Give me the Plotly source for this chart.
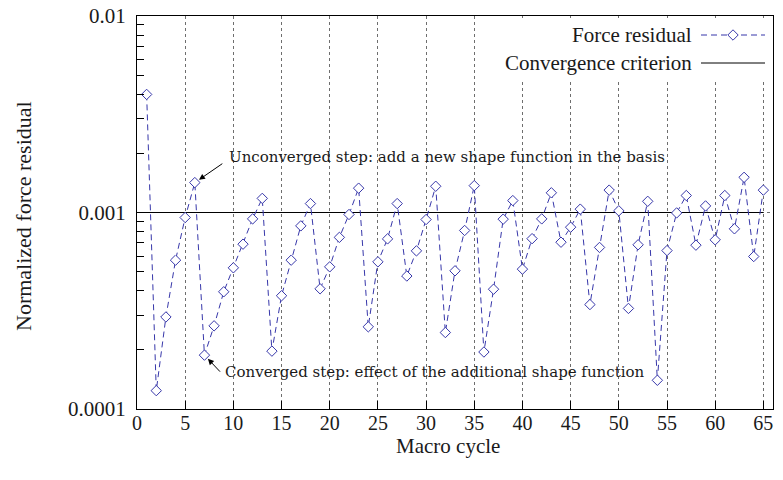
import plotly.graph_objects as go

# ---- data ----
cycles = list(range(1, 66))
force_residual = [
    0.00399, 0.000124, 0.000294, 0.000572, 0.000943, 0.00142, 0.000188, 0.000265, 0.000395, 0.000523,
    0.000690, 0.000928, 0.00118, 0.000197, 0.000377, 0.000572, 0.000855, 0.00111, 0.000409, 0.000529,
    0.000747, 0.000977, 0.00133, 0.000262, 0.000561, 0.000734, 0.00111, 0.000475, 0.000638, 0.000921,
    0.00136, 0.000245, 0.000505, 0.000810, 0.00137, 0.000195, 0.000407, 0.000925, 0.00115, 0.000515,
    0.000736, 0.000928, 0.00126, 0.000706, 0.000842, 0.00104, 0.000340, 0.000664, 0.00130, 0.00102,
    0.000325, 0.000685, 0.00114, 0.000140, 0.000640, 0.000995, 0.00122, 0.000682, 0.00108, 0.000726,
    0.00122, 0.000826, 0.00151, 0.000597, 0.00130,
]
criterion_x = [0, 65]
criterion_y = [0.001, 0.001]

x_ticks = list(range(0, 66, 5))
y_ticks = [1e-4, 1e-3, 1e-2]
y_tick_text = ["0.0001", "0.001", "0.01"]
y_minor = [k * 1e-4 for k in range(2, 10)] + [k * 1e-3 for k in range(2, 10)]

series_name = "Force residual"
criterion_name = "Convergence criterion"
ann_unconv = "Unconverged step: add a new shape function in the basis"
ann_conv = "Converged step: effect of the additional shape function"

# ---- style ----
FONT = "Liberation Serif"
ANN_FONT = "DejaVu Serif"
BLUE = "rgb(55,55,170)"
TXT = "#1a1a1a"

fig = go.Figure()
fig.add_trace(go.Scatter(
    x=criterion_x, y=criterion_y, mode="lines", name=criterion_name,
    line=dict(color="black", width=1), showlegend=False,
))
fig.add_trace(go.Scatter(
    x=cycles, y=force_residual, mode="lines+markers", name=series_name,
    line=dict(color=BLUE, width=1, dash="6px,4px"),
    marker=dict(symbol="diamond", size=8, color="white", line=dict(color=BLUE, width=1)),
    showlegend=False,
))

L, R, T, B = 137, 10, 16, 71
W, H = 783, 480
pw, ph = W - L - R, H - T - B

def px(xp):
    return (xp - L) / pw

def py(yp):
    return (T + ph - yp) / ph

fig.update_layout(
    width=W, height=H,
    margin=dict(l=L, r=R, t=T, b=B, autoexpand=False),
    paper_bgcolor="white", plot_bgcolor="white",
    font=dict(family=FONT, size=21, color=TXT),
    showlegend=False,
)
fig.update_xaxes(
    range=[0, 66], tickvals=x_ticks, ticks="inside", ticklen=8, tickcolor="black",
    ticklabelstandoff=-4, automargin=False,
    showline=True, linecolor="black", linewidth=1.3, mirror=True,
    showgrid=True, gridcolor="rgb(110,110,110)", griddash="dot", gridwidth=1,
    zeroline=False, tickfont=dict(family=FONT, size=20, color=TXT),
)
fig.update_yaxes(
    type="log", range=[-4, -2], tickvals=y_ticks, ticktext=y_tick_text,
    ticks="inside", ticklen=9, tickcolor="black", ticklabelstandoff=6, automargin=False,
    minor=dict(tickvals=y_minor, ticks="inside", ticklen=7, tickcolor="black", showgrid=False),
    showline=True, linecolor="black", linewidth=1.3, mirror=True,
    showgrid=True, gridcolor="rgb(110,110,110)", griddash="dot", gridwidth=1,
    zeroline=False, tickfont=dict(family=FONT, size=21, color=TXT),
)

# axis titles
fig.add_annotation(text="Macro cycle", xref="paper", yref="paper", x=px(448), y=py(446),
                   showarrow=False, font=dict(family=FONT, size=21, color=TXT),
                   xanchor="center", yanchor="middle")
fig.add_annotation(text="Normalized force residual", xref="paper", yref="paper", x=px(23), y=py(216),
                   showarrow=False, textangle=-90, font=dict(family=FONT, size=22, color=TXT),
                   xanchor="center", yanchor="middle")

# manual legend (text on the left, sample on the right)
shapes = []
shapes.append(dict(type="rect", xref="paper", yref="paper", x0=px(490), x1=px(772), y0=py(79), y1=py(18),
                   fillcolor="white", line=dict(width=0), layer="above"))
shapes.append(dict(type="line", xref="paper", yref="paper", x0=px(701), x1=px(765), y0=py(35), y1=py(35),
                   line=dict(color=BLUE, width=1, dash="6px,4px"), layer="above"))
cx, cy = px(733), py(35)
dx, dy = 5.2 / pw, 5.2 / ph
shapes.append(dict(type="path", xref="paper", yref="paper",
                   path=f"M {cx} {cy+dy} L {cx+dx} {cy} L {cx} {cy-dy} L {cx-dx} {cy} Z",
                   fillcolor="white", line=dict(color=BLUE, width=1), layer="above"))
shapes.append(dict(type="line", xref="paper", yref="paper", x0=px(701), x1=px(765), y0=py(63), y1=py(63),
                   line=dict(color="black", width=1), layer="above"))
fig.update_layout(shapes=shapes)
fig.add_annotation(text=series_name, xref="paper", yref="paper", x=px(694), y=py(35),
                   showarrow=False, xanchor="right", yanchor="middle",
                   font=dict(family=FONT, size=21, color=TXT))
fig.add_annotation(text=criterion_name, xref="paper", yref="paper", x=px(694), y=py(63),
                   showarrow=False, xanchor="right", yanchor="middle",
                   font=dict(family=FONT, size=21, color=TXT))

# arrows to the data points
fig.add_annotation(x=cycles[5], y=-2.848, xref="x", yref="y", text="", showarrow=True,
                   ax=29, ay=-20, arrowhead=2, arrowsize=1.2, arrowwidth=1, arrowcolor="black", standoff=5)
fig.add_annotation(x=cycles[6], y=-3.726, xref="x", yref="y", text="", showarrow=True,
                   ax=17, ay=18, arrowhead=2, arrowsize=1.2, arrowwidth=1, arrowcolor="black", standoff=5)
fig.add_annotation(text=ann_unconv, xref="paper", yref="paper", x=px(226.7), y=py(157),
                   showarrow=False, xanchor="left", yanchor="middle",
                   font=dict(family=ANN_FONT, size=15, color=TXT))
fig.add_annotation(text=ann_conv, xref="paper", yref="paper", x=px(223.3), y=py(372),
                   showarrow=False, xanchor="left", yanchor="middle",
                   font=dict(family=ANN_FONT, size=15, color=TXT))

fig.write_html("out.html", config={"displayModeBar": False},
               post_script="document.body.style.margin='0';document.body.style.padding='0';")
